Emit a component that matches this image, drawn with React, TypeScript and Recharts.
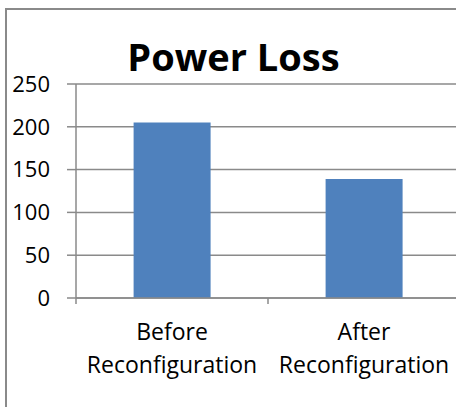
import React from "react";
import { BarChart, Bar, XAxis, YAxis, CartesianGrid } from "recharts";

const categories = ["Before Reconfiguration", "After Reconfiguration"];
const powerLoss = [205, 139];
const yTicks = [0, 50, 100, 150, 200, 250];

const data = categories.map((name, i) => ({ name, loss: powerLoss[i] }));

const CHART_W = 470;
const CHART_H = 407;
const MARGIN = { top: 84, right: 10, bottom: 29, left: 6 };
const Y_AXIS_W = 70;
const PLOT_W = CHART_W - MARGIN.left - MARGIN.right - Y_AXIS_W;
const BAND = PLOT_W / categories.length;
const GRID = "#8a8a8a";
const FONT = "'Open Sans', Lato, sans-serif";

// category label on two lines, tick marks sit on the band edges like Excel
function CategoryTick(props: any) {
  const { x, y, payload, index } = props;
  const words = String(payload.value).split(" ");
  const left = x - BAND / 2;
  const right = x + BAND / 2;
  return (
    <g>
      <line x1={left} x2={left} y1={y} y2={y + 6} stroke={GRID} strokeWidth={1.5} />
      {index === categories.length - 1 && (
        <line x1={right} x2={right} y1={y} y2={y + 6} stroke={GRID} strokeWidth={1.5} />
      )}
      <text x={x} y={y} textAnchor="middle" fill="#000" fontSize={23} fontFamily={FONT}>
        <tspan x={x} dy={42}>{words[0]}</tspan>
        <tspan x={x} dy={32.7}>{words.slice(1).join(" ")}</tspan>
      </text>
    </g>
  );
}

export default function App() {
  return (
    <div
      style={{
        position: "absolute",
        left: 0,
        top: 0,
        width: 456,
        height: 407,
        overflow: "hidden",
        background: "#fff",
      }}
    >
      {/* chart area frame, right/bottom edges fall outside the picture */}
      <div
        style={{
          position: "absolute",
          left: 5,
          top: 8,
          width: 480,
          height: 480,
          border: `2px solid ${GRID}`,
          boxSizing: "border-box",
        }}
      />
      <div style={{ position: "absolute", left: 0, top: 0 }}>
        <BarChart width={CHART_W} height={CHART_H} data={data} margin={MARGIN} barCategoryGap="30%">
          <CartesianGrid vertical={false} stroke={GRID} strokeWidth={1.5} />
          <XAxis
            dataKey="name"
            interval={0}
            tickLine={false}
            tickSize={0}
            tickMargin={0}
            height={80}
            axisLine={{ stroke: GRID, strokeWidth: 1.5 }}
            tick={<CategoryTick />}
          />
          <YAxis
            width={Y_AXIS_W}
            domain={[0, 250]}
            ticks={yTicks}
            interval={0}
            tickSize={9}
            tickMargin={17}
            axisLine={{ stroke: GRID, strokeWidth: 1.5 }}
            tickLine={{ stroke: GRID, strokeWidth: 1.5 }}
            tick={{ fill: "#000", fontSize: 22, fontFamily: FONT }}
          />
          <Bar dataKey="loss" fill="#4F81BD" isAnimationActive={false} />
        </BarChart>
      </div>
      <svg
        width={456}
        height={100}
        style={{ position: "absolute", left: 0, top: 0, pointerEvents: "none" }}
      >
        <text
          x={233.5}
          y={71}
          textAnchor="middle"
          fontSize={38}
          fontWeight="bold"
          fontFamily={FONT}
          fill="#000"
        >
          Power Loss
        </text>
      </svg>
    </div>
  );
}
